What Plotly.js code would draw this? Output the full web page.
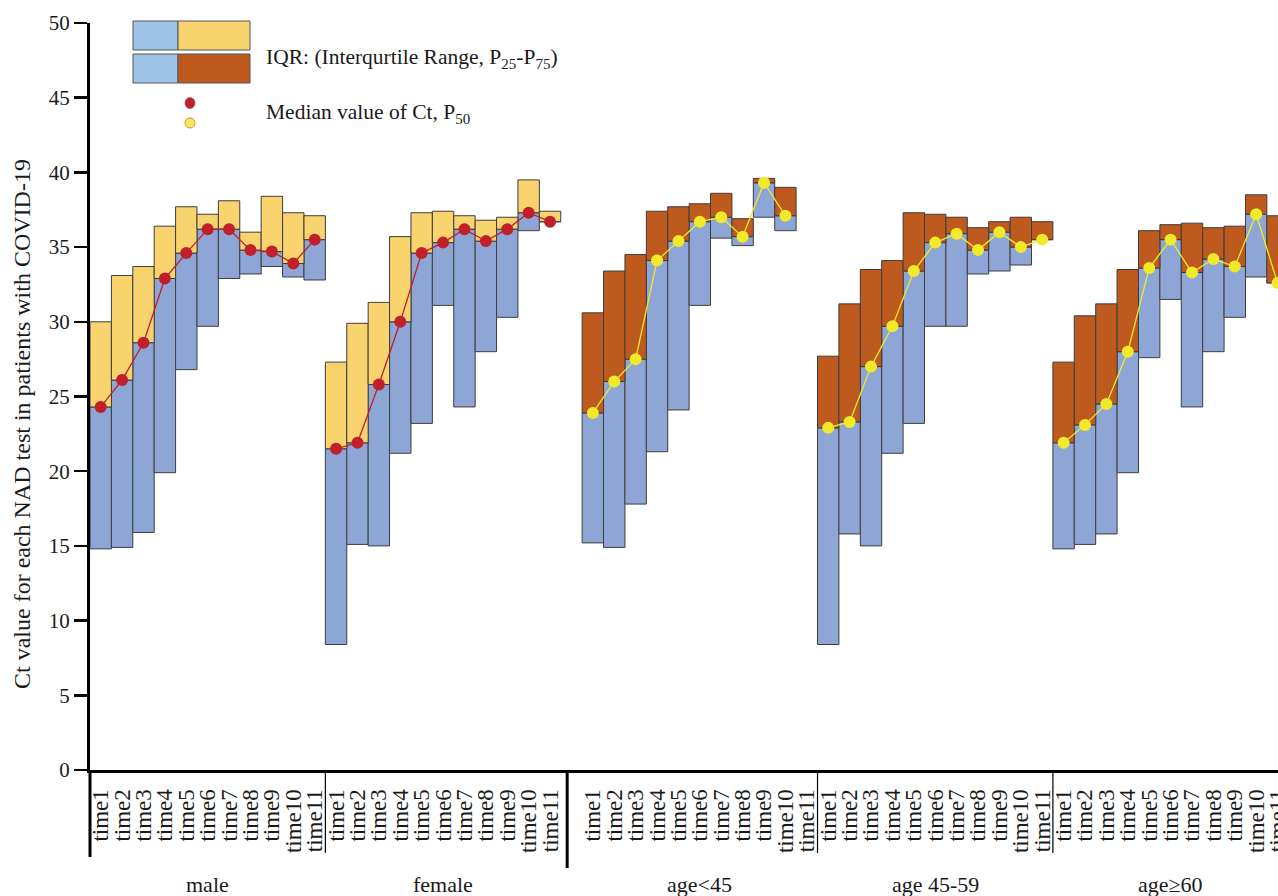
<!DOCTYPE html>
<html>
<head>
<meta charset="utf-8">
<script src="https://cdn.plot.ly/plotly-3.0.1.min.js"></script>
<style>html,body{margin:0;padding:0;background:#fff;}#chart{width:1278px;height:896px;}</style>
</head>
<body>
<div id="chart"></div>
<script>
// ---- data ----
const groups = ["male", "female", "age<45", "age 45-59", "age≥60"];
const times = ["time1","time2","time3","time4","time5","time6","time7","time8","time9","time10","time11"];

const maleP25 = [14.8, 14.9, 15.9, 19.9, 26.8, 29.7, 32.9, 33.2, 33.7, 33.0, 32.8];
const maleP50 = [24.3, 26.1, 28.6, 32.9, 34.6, 36.2, 36.2, 34.8, 34.7, 33.9, 35.5];
const maleP75 = [30.0, 33.1, 33.7, 36.4, 37.7, 37.2, 38.1, 36.0, 38.4, 37.3, 37.1];

const femaleP25 = [8.4, 15.1, 15.0, 21.2, 23.2, 31.1, 24.3, 28.0, 30.3, 36.1, 36.7];
const femaleP50 = [21.5, 21.9, 25.8, 30.0, 34.6, 35.3, 36.2, 35.4, 36.2, 37.3, 36.7];
const femaleP75 = [27.3, 29.9, 31.3, 35.7, 37.3, 37.4, 37.1, 36.8, 37.0, 39.5, 37.4];

const ageU45P25 = [15.2, 14.9, 17.8, 21.3, 24.1, 31.1, 35.6, 35.1, 37.0, 36.1, null];
const ageU45P50 = [23.9, 26.0, 27.5, 34.1, 35.4, 36.7, 37.0, 35.7, 39.3, 37.1, null];
const ageU45P75 = [30.6, 33.4, 34.5, 37.4, 37.7, 37.9, 38.6, 36.9, 39.6, 39.0, null];

const age4559P25 = [8.4, 15.8, 15.0, 21.2, 23.2, 29.7, 29.7, 33.2, 33.4, 33.8, 35.5];
const age4559P50 = [22.9, 23.3, 27.0, 29.7, 33.4, 35.3, 35.9, 34.8, 36.0, 35.0, 35.5];
const age4559P75 = [27.7, 31.2, 33.5, 34.1, 37.3, 37.2, 37.0, 36.3, 36.7, 37.0, 36.7];

const age60P25 = [14.8, 15.1, 15.8, 19.9, 27.6, 31.5, 24.3, 28.0, 30.3, 33.0, 32.8];
const age60P50 = [21.9, 23.1, 24.5, 28.0, 33.6, 35.5, 33.3, 34.2, 33.7, 37.2, 32.6];
const age60P75 = [27.3, 30.4, 31.2, 33.5, 36.1, 36.5, 36.6, 36.3, 36.4, 38.5, 37.1];

const yTitle = "Ct value for each NAD test in patients with COVID-19";
const legendIQR = "IQR: (Interqurtile Range, P<sub>25</sub>-P<sub>75</sub>)";
const legendMedian = "Median value of Ct, P<sub>50</sub>";

// ---- styling ----
const BLUE = "#8ea6d5", LBLUE = "#9dc3e6", YEL = "#f9d36e", ORG = "#be5a1e";
const RED = "#c1202a", YDOT = "#f1ea2a", EDGE = "#3d3d3d";
const FONT = "Liberation Serif, Times New Roman, serif";
const TXT = "#1a1a1a";

const series = [
  {p25: maleP25, p50: maleP50, p75: maleP75, upper: YEL, dot: RED},
  {p25: femaleP25, p50: femaleP50, p75: femaleP75, upper: YEL, dot: RED},
  {p25: ageU45P25, p50: ageU45P50, p75: ageU45P75, upper: ORG, dot: YDOT},
  {p25: age4559P25, p50: age4559P50, p75: age4559P75, upper: ORG, dot: YDOT},
  {p25: age60P25, p50: age60P50, p75: age60P75, upper: ORG, dot: YDOT}
];

// slot layout: one empty slot between the sex groups and the age groups
const n = times.length;
const starts = [];
let pos = 0;
groups.forEach((g, gi) => { starts.push(pos); pos += n; if (gi === 1) pos += 1; });
const lastSlot = pos - 1;

const traces = [];
const tickvals = [], ticktext = [];
series.forEach((s, gi) => {
  const xs = times.map((t, i) => starts[gi] + i);
  xs.forEach((x, i) => { tickvals.push(x); ticktext.push(times[i]); });
  const lowBase = [], lowH = [], upBase = [], upH = [];
  s.p50.forEach((m, i) => {
    const a = s.p25[i], c = s.p75[i];
    if (m === null) { lowBase.push(null); lowH.push(null); upBase.push(null); upH.push(null); return; }
    lowBase.push(a); lowH.push(m - a);
    upBase.push(m); upH.push(c - m);
  });
  traces.push({type: "bar", x: xs, y: lowH, base: lowBase, width: 1,
    marker: {color: BLUE, line: {color: EDGE, width: 1}}, hoverinfo: "skip", showlegend: false});
  traces.push({type: "bar", x: xs, y: upH, base: upBase, width: 1,
    marker: {color: s.upper, line: {color: EDGE, width: 1}}, hoverinfo: "skip", showlegend: false});
  traces.push({type: "scatter", mode: "lines+markers", x: xs, y: s.p50,
    line: {color: s.dot, width: 1.3}, marker: {color: s.dot, size: 12},
    connectgaps: false, hoverinfo: "skip", showlegend: false, cliponaxis: true});
});

// pixel helpers for the layout decorations (plot area: x 90..1278, y 23..770)
const L = 90, T = 23, W = 1188, H = 747;
const px = v => (v - L) / W;
const py = v => (T + H - v) / H;

const shapes = [
  // y axis continued into the label band
  {type: "line", xref: "paper", yref: "paper", x0: 0, x1: 0, y0: 0, y1: py(857), line: {color: "#000", width: 3}},
  // separators between groups
  {type: "line", xref: "x", yref: "paper", x0: starts[1] - 0.5, x1: starts[1] - 0.5, y0: 0, y1: py(853), line: {color: "#000", width: 1.2}},
  {type: "line", xref: "x", yref: "paper", x0: starts[2] - 1.2, x1: starts[2] - 1.2, y0: 0, y1: py(868), line: {color: "#000", width: 3}},
  {type: "line", xref: "x", yref: "paper", x0: starts[3] - 0.5, x1: starts[3] - 0.5, y0: 0, y1: py(853), line: {color: "#000", width: 1.2}},
  {type: "line", xref: "x", yref: "paper", x0: starts[4] - 0.5, x1: starts[4] - 0.5, y0: 0, y1: py(853), line: {color: "#000", width: 1.2}},
  // legend boxes
  {type: "rect", xref: "paper", yref: "paper", x0: px(133), x1: px(178), y0: py(50), y1: py(21), fillcolor: LBLUE, line: {color: "#555", width: 1}},
  {type: "rect", xref: "paper", yref: "paper", x0: px(178), x1: px(250), y0: py(50), y1: py(21), fillcolor: YEL, line: {color: "#555", width: 1}},
  {type: "rect", xref: "paper", yref: "paper", x0: px(133), x1: px(178), y0: py(83), y1: py(54), fillcolor: LBLUE, line: {color: "#555", width: 1}},
  {type: "rect", xref: "paper", yref: "paper", x0: px(178), x1: px(250), y0: py(83), y1: py(54), fillcolor: ORG, line: {color: "#555", width: 1}},
  // legend dots
  {type: "circle", xref: "paper", yref: "paper", xsizemode: "pixel", ysizemode: "pixel",
   xanchor: px(190), yanchor: py(103), x0: -5, x1: 5, y0: -5.5, y1: 5.5, fillcolor: RED, line: {color: RED, width: 0.5}},
  {type: "circle", xref: "paper", yref: "paper", xsizemode: "pixel", ysizemode: "pixel",
   xanchor: px(190), yanchor: py(123), x0: -5, x1: 5, y0: -5, y1: 5, fillcolor: "#f7ea5a", line: {color: "#d88a3a", width: 1}}
];

const annotations = [
  {xref: "paper", yref: "paper", x: px(264), y: py(58), xanchor: "left", yanchor: "middle", showarrow: false,
   text: legendIQR, font: {family: FONT, size: 21.5, color: TXT}},
  {xref: "paper", yref: "paper", x: px(264), y: py(114), xanchor: "left", yanchor: "middle", showarrow: false,
   text: legendMedian, font: {family: FONT, size: 21.5, color: TXT}},
  // y-axis title (placed as in the reference, slightly below the axis centre)
  {xref: "paper", yref: "paper", x: px(22), y: py(424), xanchor: "center", yanchor: "middle", textangle: -90,
   showarrow: false, text: yTitle, font: {family: FONT, size: 24, color: TXT}}
];
groups.forEach((g, gi) => {
  annotations.push({xref: "x", yref: "paper", x: starts[gi] + (n - 1) / 2, y: py(884), xanchor: "center", yanchor: "middle",
    showarrow: false, text: g, font: {family: FONT, size: 22, color: TXT}});
});

const layout = {
  width: 1278, height: 896,
  margin: {l: L, r: 0, t: T, b: 896 - T - H, pad: 0},
  paper_bgcolor: "#fff", plot_bgcolor: "#fff",
  barmode: "overlay", bargap: 0,
  showlegend: false,
  // the reference is cropped through the middle of the last slot
  xaxis: {range: [-0.5, lastSlot + 0.02], tickmode: "array", tickvals: tickvals, ticktext: ticktext,
    tickangle: -90, ticks: "", showgrid: false, zeroline: false, showline: true, linecolor: "#000", linewidth: 3,
    ticklabeloverflow: "allow", ticklabelstandoff: 7, tickfont: {family: FONT, size: 23, color: TXT}, fixedrange: true},
  yaxis: {range: [0, 50], dtick: 5, tick0: 0, ticks: "outside", ticklen: 13, tickwidth: 2.5, tickcolor: "#000",
    showgrid: false, zeroline: false, showline: true, linecolor: "#000", linewidth: 3,
    tickfont: {family: FONT, size: 21, color: TXT}},
  shapes: shapes, annotations: annotations,
  font: {family: FONT}
};

Plotly.newPlot("chart", traces, layout, {displayModeBar: false, staticPlot: true});
</script>
</body>
</html>
